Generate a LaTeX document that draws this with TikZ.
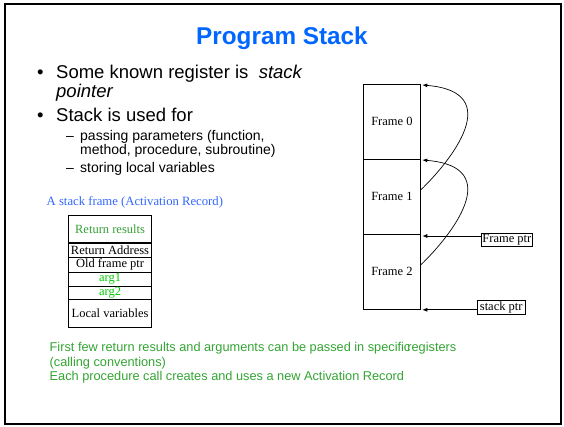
\documentclass[tikz,border=0pt]{standalone}
\usepackage{fontspec}
\setmainfont{Liberation Serif}
\newfontfamily\arialfont{Liberation Sans}
\usetikzlibrary{arrows.meta,calc}
\newcommand\fsz[1]{\fontsize{#1}{#1}\selectfont}
\definecolor{titleblue}{RGB}{0,102,255}
\definecolor{capblue}{RGB}{51,102,255}
\definecolor{rrgreen}{RGB}{51,160,51}
\definecolor{arggreen}{RGB}{0,204,0}
\definecolor{notegreen}{RGB}{51,165,51}
\begin{document}
\begin{tikzpicture}[x=1pt,y=-1pt,
  txt/.style={inner sep=0pt, anchor=base west},
  cell/.style={draw, line width=0.8pt, minimum width=82.7pt, inner sep=0pt,
    anchor=north west, font=\fsz{12.5}},
  frm/.style={draw, line width=0.8pt, minimum width=57pt, minimum height=75pt,
    inner sep=0pt, anchor=north west, font=\fsz{12.5}},
  ptrbox/.style={draw, line width=0.8pt, inner xsep=1.5pt, inner ysep=1.2pt,
    anchor=north west, font=\fsz{12.5}},
  arr/.style={line width=0.7pt, -{Latex[length=5pt,width=4pt]}}]
\useasboundingbox (0,0) rectangle (564,427);
\fill[white] (0,0) rectangle (564,427);
\draw[line width=2pt] (4.5,4.5) rectangle (560.5,423.5);

% title
\node[inner sep=0pt, anchor=base, text=titleblue, font=\arialfont\bfseries\fsz{24.3}]
  (title) at (282,45) {Program Stack};

% bullet list
\node[txt, font=\arialfont\fsz{18.5}] (b1) at (37,79) {\textbullet};
\node[txt, font=\arialfont\fsz{18.5}] (l1) at (56,79) {Some known register is \ \textit{stack}};
\node[txt, font=\arialfont\fsz{18.5}] (l2) at (56,97.5) {\textit{pointer}};
\node[txt, font=\arialfont\fsz{18.5}] (b2) at (37,122) {\textbullet};
\node[txt, font=\arialfont\fsz{18.5}] (l3) at (56,122) {Stack is used for};
\node[txt, font=\arialfont\fsz{14}] (d1) at (66,141) {–};
\node[txt, font=\arialfont\fsz{14}] (l4) at (80,141) {passing parameters (function,};
\node[txt, font=\arialfont\fsz{14}] (l5) at (80,155) {method, procedure, subroutine)};
\node[txt, font=\arialfont\fsz{14}] (d2) at (66,173) {–};
\node[txt, font=\arialfont\fsz{14}] (l6) at (80,173) {storing local variables};

% activation record
\node[txt, text=capblue, font=\fsz{12.7}] (cap) at (46.5,206) {A stack frame (Activation Record)};
\node[cell, minimum height=26.7pt, text=rrgreen] (rr) at (68.3,215) {Return results};
\node[cell, minimum height=13.4pt] (ra) at (68.3,243.3) {Return Address};
\node[cell, minimum height=15pt] (of) at (68.3,256.7) {Old frame ptr};
\node[cell, minimum height=14pt, text=arggreen] (a1) at (68.3,271.7) {arg1};
\node[cell, minimum height=13.6pt, text=arggreen] (a2) at (68.3,285.7) {arg2};
\node[cell, minimum height=28pt] (lv) at (68.3,299.3) {Local variables};

% program stack
\node[frm] (f0) at (363,84) {Frame 0};
\node[frm] (f1) at (363,159) {Frame 1};
\node[frm] (f2) at (363,234) {Frame 2};

% saved frame pointers
\draw[arr] ($(f1.east)+(0,-7)$) .. controls +(30,-29) and +(84,7) .. ($(f0.north east)+(1.5,1)$);
\draw[arr] ($(f2.east)+(0,-7)$) .. controls +(30,-29) and +(84,7) .. ($(f1.north east)+(1.5,1)$);

% pointer registers
\node[ptrbox] (fp) at (480.5,233) {Frame ptr};
\node[ptrbox, inner xsep=3pt] (sp) at (476.5,300) {stack ptr};
\coordinate (fptip) at ($(f2.north east)+(1.5,2)$);
\coordinate (sptip) at ($(f2.south east)+(1.5,0)$);
\draw[arr] (fp.west |- fptip) -- (fptip);
\draw[arr] (sp.west |- sptip) -- (sptip);

% notes
\node[txt, text=notegreen, font=\arialfont\fsz{12.75}] (n1) at (49.5,351)
  {First few return results and arguments can be passed in specific\kern-3pt registers};
\node[txt, text=notegreen, font=\arialfont\fsz{12.75}] (n2) at (49.5,366) {(calling conventions)};
\node[txt, text=notegreen, font=\arialfont\fsz{12.75}] (n3) at (49.5,380)
  {Each procedure call creates and uses a new Activation Record};
\end{tikzpicture}
\end{document}
